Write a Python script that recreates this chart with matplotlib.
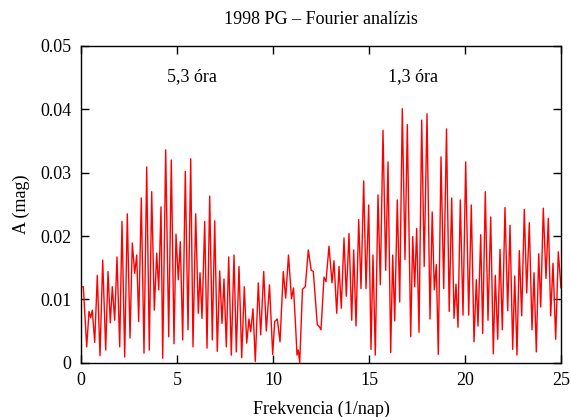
import matplotlib
matplotlib.use("Agg")
import matplotlib.pyplot as plt
from matplotlib.ticker import FuncFormatter

freq = [0.000, 0.120, 0.297, 0.417, 0.505, 0.589, 0.714, 0.849, 0.990, 1.130,
        1.286, 1.406, 1.526, 1.630, 1.755, 1.875, 2.016, 2.135, 2.276, 2.411,
        2.552, 2.672, 2.797, 2.901, 3.005, 3.141, 3.281, 3.422, 3.557, 3.682,
        3.818, 3.943, 4.047, 4.167, 4.255, 4.411, 4.568, 4.703, 4.844, 4.948,
        5.068, 5.172, 5.297, 5.432, 5.573, 5.714, 5.833, 5.974, 6.109, 6.198,
        6.302, 6.443, 6.563, 6.703, 6.839, 6.964, 7.099, 7.224, 7.344, 7.448,
        7.568, 7.693, 7.828, 7.969, 8.089, 8.229, 8.370, 8.505, 8.630, 8.750,
        8.839, 8.958, 9.078, 9.234, 9.359, 9.516, 9.651, 9.818, 9.984, 10.089,
        10.224, 10.365, 10.536, 10.661, 10.807, 10.964, 11.068, 11.182, 11.250, 11.318,
        11.391, 11.536, 11.682, 11.839, 11.990, 12.099, 12.307, 12.411, 12.500, 12.656,
        12.760, 12.917, 13.073, 13.177, 13.318, 13.438, 13.557, 13.698, 13.818, 13.958,
        14.099, 14.203, 14.323, 14.464, 14.583, 14.724, 14.844, 14.984, 15.104, 15.208,
        15.328, 15.469, 15.589, 15.729, 15.870, 15.990, 16.130, 16.234, 16.339, 16.474,
        16.599, 16.734, 16.875, 16.995, 17.172, 17.276, 17.380, 17.484, 17.604, 17.745,
        17.875, 18.021, 18.177, 18.292, 18.401, 18.505, 18.609, 18.750, 18.891, 19.036,
        19.177, 19.307, 19.427, 19.531, 19.635, 19.755, 19.896, 20.036, 20.193, 20.328,
        20.469, 20.589, 20.677, 20.818, 20.922, 21.057, 21.198, 21.339, 21.474, 21.578,
        21.703, 21.823, 21.943, 22.083, 22.224, 22.344, 22.484, 22.589, 22.708, 22.828,
        22.953, 23.089, 23.214, 23.349, 23.490, 23.594, 23.714, 23.839, 23.943, 24.078,
        24.219, 24.339, 24.464, 24.583, 24.724, 24.859, 25.000]

amp = [0.0120, 0.0120, 0.0025, 0.0081, 0.0071, 0.0083, 0.0032, 0.0138, 0.0011, 0.0162,
       0.0020, 0.0144, 0.0063, 0.0120, 0.0067, 0.0167, 0.0025, 0.0223, 0.0009, 0.0235,
       0.0039, 0.0189, 0.0141, 0.0170, 0.0065, 0.0260, 0.0015, 0.0309, 0.0020, 0.0270,
       0.0083, 0.0173, 0.0115, 0.0246, 0.0007, 0.0336, 0.0041, 0.0320, 0.0030, 0.0203,
       0.0131, 0.0191, 0.0036, 0.0302, 0.0052, 0.0322, 0.0025, 0.0235, 0.0078, 0.0142,
       0.0070, 0.0223, 0.0023, 0.0263, 0.0036, 0.0224, 0.0018, 0.0145, 0.0062, 0.0132,
       0.0025, 0.0167, 0.0012, 0.0170, 0.0017, 0.0152, 0.0008, 0.0120, 0.0031, 0.0069,
       0.0049, 0.0085, 0.0002, 0.0126, 0.0044, 0.0144, 0.0050, 0.0123, 0.0013, 0.0065,
       0.0069, 0.0033, 0.0144, 0.0102, 0.0170, 0.0101, 0.0118, 0.0055, 0.0012, 0.0020,
       0.0000, 0.0116, 0.0120, 0.0178, 0.0146, 0.0144, 0.0060, 0.0057, 0.0052, 0.0135,
       0.0128, 0.0184, 0.0126, 0.0161, 0.0078, 0.0152, 0.0086, 0.0197, 0.0105, 0.0204,
       0.0067, 0.0178, 0.0058, 0.0226, 0.0117, 0.0287, 0.0117, 0.0249, 0.0021, 0.0170,
       0.0012, 0.0265, 0.0123, 0.0367, 0.0146, 0.0317, 0.0016, 0.0170, 0.0066, 0.0257,
       0.0096, 0.0401, 0.0163, 0.0376, 0.0041, 0.0199, 0.0120, 0.0212, 0.0048, 0.0383,
       0.0152, 0.0393, 0.0069, 0.0238, 0.0115, 0.0155, 0.0013, 0.0325, 0.0117, 0.0369,
       0.0081, 0.0260, 0.0070, 0.0124, 0.0056, 0.0257, 0.0075, 0.0317, 0.0075, 0.0249,
       0.0033, 0.0131, 0.0058, 0.0202, 0.0046, 0.0270, 0.0067, 0.0230, 0.0014, 0.0138,
       0.0037, 0.0179, 0.0052, 0.0245, 0.0082, 0.0217, 0.0021, 0.0137, 0.0012, 0.0177,
       0.0074, 0.0242, 0.0110, 0.0221, 0.0052, 0.0142, 0.0017, 0.0172, 0.0088, 0.0244,
       0.0133, 0.0228, 0.0074, 0.0157, 0.0037, 0.0175, 0.0118]

x_ticks = [0, 5, 10, 15, 20, 25]
y_ticks = [0, 0.01, 0.02, 0.03, 0.04, 0.05]
annotations = [("5,3 óra", 5.78, 0.0451), ("1,3 óra", 17.29, 0.0451)]

plt.rcParams['font.family'] = ['Liberation Serif', 'DejaVu Serif']

fig = plt.figure(figsize=(5.71, 4.17), dpi=100)
ax = fig.add_axes([81/571, 1 - 362.7/417, 480/571, (362.7 - 46)/417])

ax.plot(freq, amp, color='#ff0000', linewidth=1.0)

ax.set_xlim(0, 25)
ax.set_ylim(0, 0.05)
ax.set_xticks(x_ticks)
ax.set_yticks(y_ticks)
ax.yaxis.set_major_formatter(FuncFormatter(lambda v, p: "0" if v == 0 else f"{v:.2f}"))
ax.tick_params(direction='in', length=6, width=1, top=True, right=True, labelsize=13, pad=7)
for s in ax.spines.values():
    s.set_linewidth(1.0)

ax.set_xlabel("Frekvencia (1/nap)", fontsize=13, labelpad=8)
ax.set_ylabel("A (mag)", fontsize=13, labelpad=7)
fig.text(321/571, 1 - 19/417, "1998 PG – Fourier analízis", ha='center', va='center', fontsize=13)

for txt, xv, yv in annotations:
    ax.text(xv, yv, txt, ha='center', va='center', fontsize=13)

fig.savefig("out.png", dpi=100)
